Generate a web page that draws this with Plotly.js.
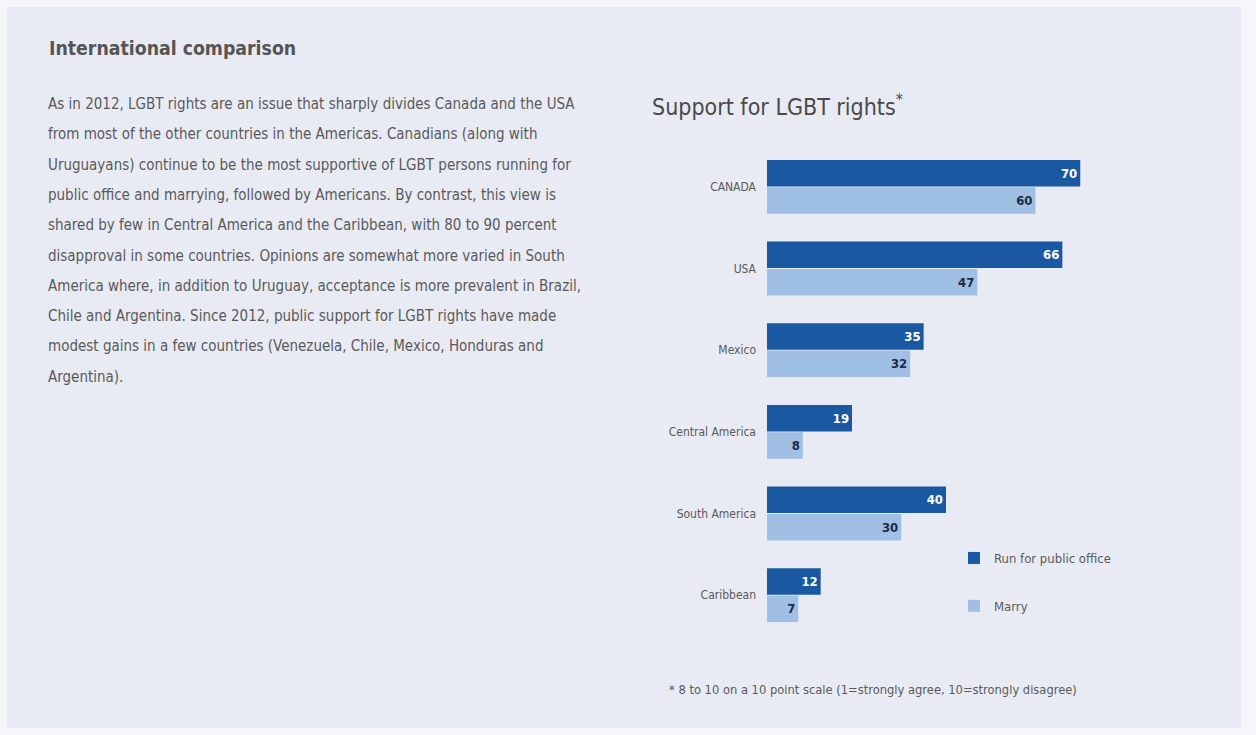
<!DOCTYPE html>
<html>
<head>
<meta charset="utf-8">
<script src="https://cdn.plot.ly/plotly-3.0.1.min.js"></script>
<style>
html,body{margin:0;padding:0;background:#f5f6f9;}
#chart{width:1256px;height:735px;}
</style>
</head>
<body>
<div id="chart"></div>
<script>
// ---- data ----
const categories = ["CANADA", "USA", "Mexico", "Central America", "South America", "Caribbean"];
const runForOffice = [70, 66, 35, 19, 40, 12];
const marry = [60, 47, 32, 8, 30, 7];
const seriesNames = ["Run for public office", "Marry"];

const heading = "International comparison";
const paragraphLines = [
  "As in 2012, LGBT rights are an issue that sharply divides Canada and the USA",
  "from most of the other countries in the Americas. Canadians (along with",
  "Uruguayans) continue to be the most supportive of LGBT persons running for",
  "public office and marrying, followed by Americans. By contrast, this view is",
  "shared by few in Central America and the Caribbean, with 80 to 90 percent",
  "disapproval in some countries. Opinions are somewhat more varied in South",
  "America where, in addition to Uruguay, acceptance is more prevalent in Brazil,",
  "Chile and Argentina. Since 2012, public support for LGBT rights have made",
  "modest gains in a few countries (Venezuela, Chile, Mexico, Honduras and",
  "Argentina)."
];
const chartTitle = "Support for LGBT rights<sup>*</sup>";
const footnote = "* 8 to 10 on a 10 point scale (1=strongly agree, 10=strongly disagree)";

// ---- layout geometry ----
const W = 1256, H = 735;
const M = {l: 767, r: 131, t: 146, b: 99};
const PW = W - M.l - M.r, PH = H - M.t - M.b;
const px2x = p => (p - M.l) / PW;
const py2y = p => 1 - (p - M.t) / PH;

const FONT = "'DejaVu Sans Condensed', 'Liberation Sans Narrow', sans-serif";
const TXT = "#5a5a5a";
const DARK = "#1b58a2";
const LIGHT = "#9fbfe4";

const traces = [
  {
    type: "bar", orientation: "h", name: seriesNames[0], legendgroup: "a",
    y: categories, x: runForOffice,
    marker: {color: DARK},
    text: runForOffice.map(String), textposition: "inside", insidetextanchor: "end",
    textfont: {family: FONT, size: 13, color: "#ffffff", weight: "bold"},
    cliponaxis: false, hoverinfo: "x+y"
  },
  {
    type: "bar", orientation: "h", name: seriesNames[1], legendgroup: "b",
    y: categories, x: marry,
    marker: {color: LIGHT},
    text: marry.map(String), textposition: "inside", insidetextanchor: "end",
    textfont: {family: FONT, size: 13, color: "#1d2a44", weight: "bold"},
    cliponaxis: false, hoverinfo: "x+y"
  }
];

const annotations = [];
annotations.push({
  text: heading, xref: "paper", yref: "paper", x: px2x(47), y: py2y(48),
  xanchor: "left", yanchor: "middle", showarrow: false,
  font: {family: FONT, size: 19.3, color: "#555555", weight: "bold"}
});
paragraphLines.forEach((ln, i) => {
  annotations.push({
    text: ln, xref: "paper", yref: "paper", x: px2x(46), y: py2y(104 + i * 30.3),
    xanchor: "left", yanchor: "middle", showarrow: false,
    font: {family: FONT, size: 15, color: TXT}
  });
});
annotations.push({
  text: chartTitle, xref: "paper", yref: "paper", x: px2x(650), y: py2y(105),
  xanchor: "left", yanchor: "middle", showarrow: false,
  font: {family: FONT, size: 23, color: "#4a4a4a"}
});
annotations.push({
  text: footnote, xref: "paper", yref: "paper", x: px2x(667), y: py2y(689),
  xanchor: "left", yanchor: "middle", showarrow: false,
  font: {family: FONT, size: 12.8, color: TXT}
});

const layout = {
  width: W, height: H,
  margin: M,
  paper_bgcolor: "#f5f6f9",
  plot_bgcolor: "rgba(0,0,0,0)",
  font: {family: FONT, color: TXT, size: 13},
  barmode: "group", bargap: 0.33, bargroupgap: 0.03,
  showlegend: true,
  legend: {
    x: px2x(954), y: py2y(543), xanchor: "left", yanchor: "top",
    bgcolor: "rgba(0,0,0,0)", traceorder: "grouped", tracegroupgap: 28,
    font: {family: FONT, size: 13, color: TXT}
  },
  xaxis: {range: [0, 80], visible: false, fixedrange: true},
  yaxis: {
    type: "category", autorange: "reversed", showgrid: false, zeroline: false,
    showline: false, ticks: "", ticklabelstandoff: 10,
    tickfont: {family: FONT, size: 12, color: TXT}, fixedrange: true
  },
  shapes: [{
    type: "rect", xref: "paper", yref: "paper", layer: "below",
    x0: px2x(7), x1: px2x(1241), y0: py2y(7), y1: py2y(728),
    fillcolor: "#e8ebf3", line: {width: 0}
  }],
  annotations: annotations
};

Plotly.newPlot("chart", traces, layout, {displayModeBar: false, staticPlot: true});
</script>
</body>
</html>
